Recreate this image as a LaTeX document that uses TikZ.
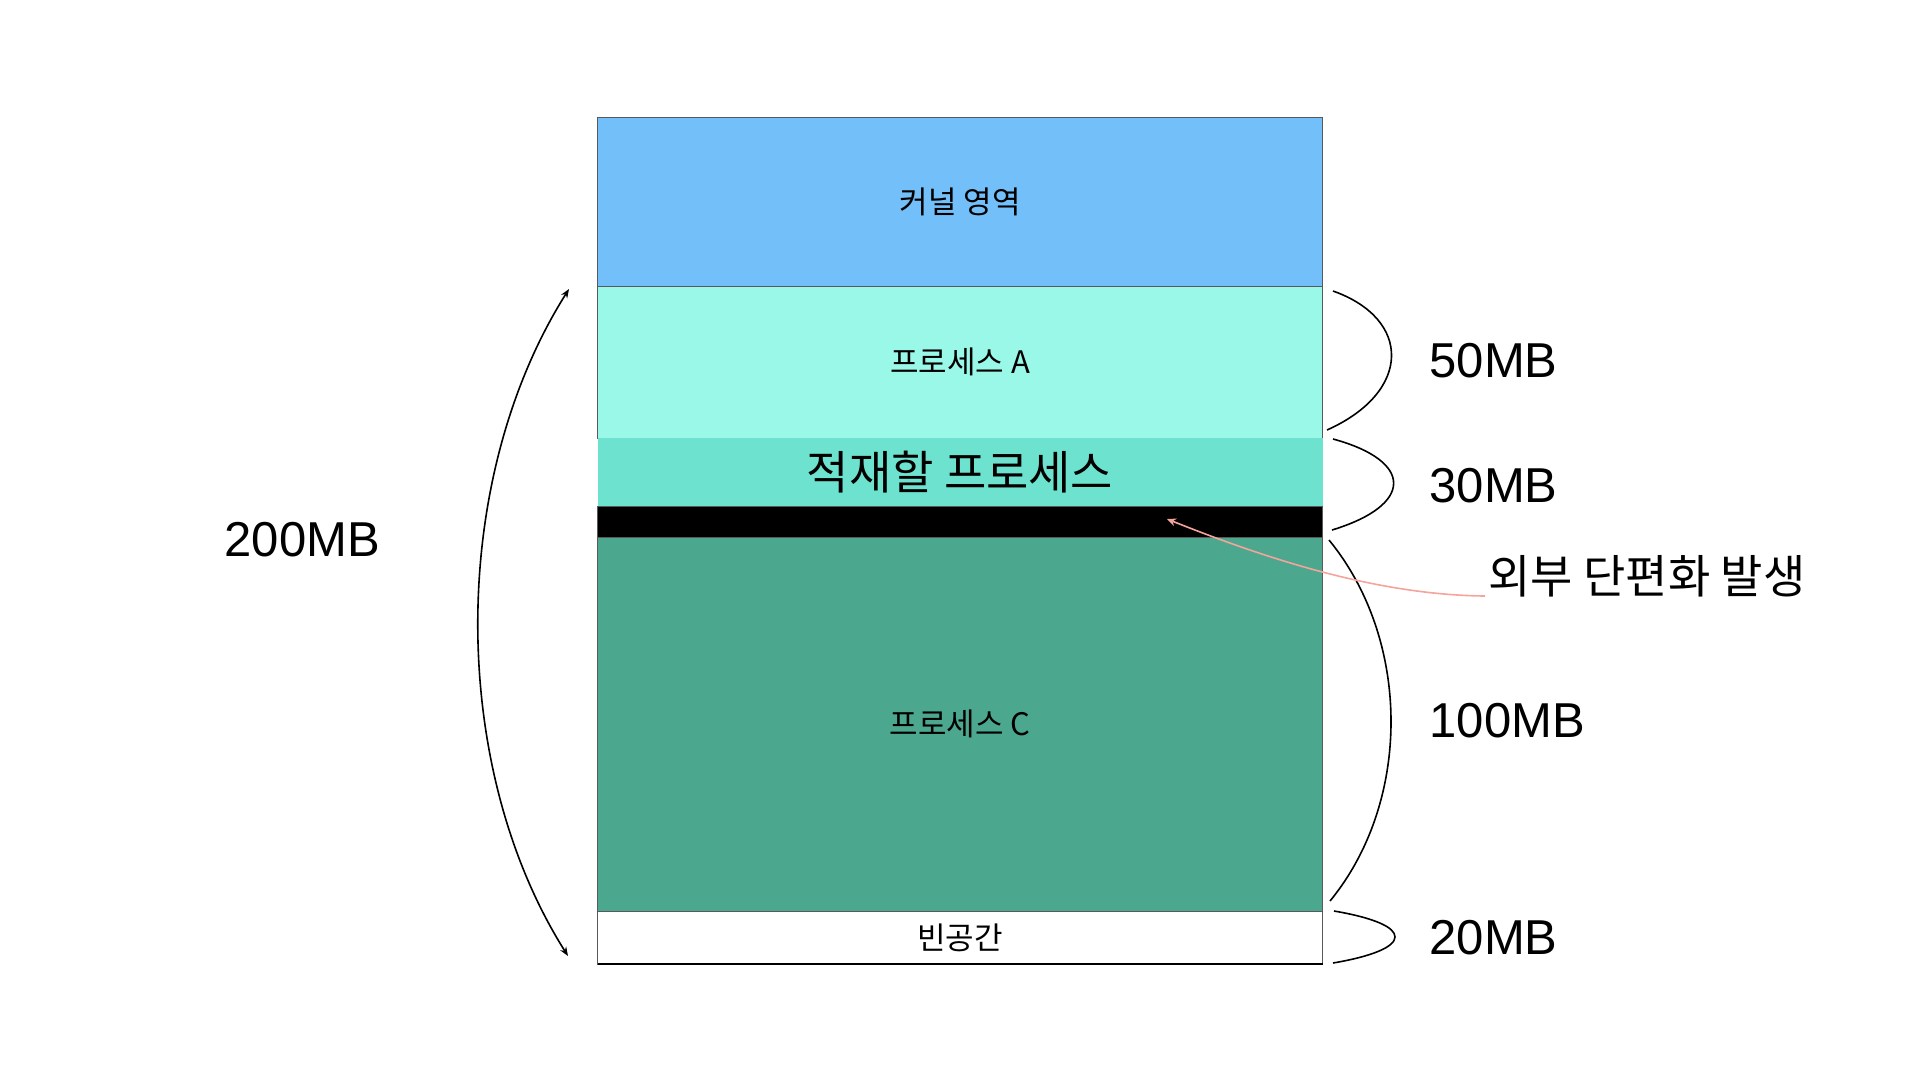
\documentclass[tikz,border=0pt]{standalone}
\usepackage{fontspec}
\setmainfont{Liberation Sans}
\newfontfamily\kor{Noto Sans CJK KR}
\usetikzlibrary{positioning,arrows.meta}

\definecolor{kernelblue}{HTML}{73BFF9}
\definecolor{procA}{HTML}{9AF8E9}
\definecolor{loadproc}{HTML}{6DE3CF}
\definecolor{procC}{HTML}{4BA88F}
\definecolor{fragpink}{HTML}{F4A49A}

\tikzset{
  region/.style={rectangle, minimum width=725pt, inner sep=0pt, outer sep=0pt,
    draw=black!65, line width=0.9pt, font=\kor\fontsize{31}{35}\selectfont},
  sizelabel/.style={anchor=west, font=\fontsize{49}{54}\selectfont},
  brace/.style={line width=1.6pt},
}

\begin{document}
\begin{tikzpicture}[x=1pt, y=-1pt]
  \useasboundingbox (0,0) rectangle (1920,1080);

  % Memory regions
  \node[region, fill=kernelblue, minimum height=169pt, anchor=north] (kernel) at (960,117) {커널 영역};
  \node[region, fill=procA, minimum height=152pt, below=0pt of kernel] (pa) {프로세스 A};
  \node[region, fill=loadproc, draw=none, minimum height=68pt, below=0pt of pa,
        font=\kor\fontsize{46}{50}\selectfont] (load) {적재할 프로세스};
  \node[region, fill=black, minimum height=31pt, below=0pt of load] (hole) {};
  \node[region, fill=procC, minimum height=374pt, below=0pt of hole] (pc) {프로세스 C};
  \node[region, fill=white, minimum height=53pt, below=0pt of pc] (empty) {빈공간};
  \draw[line width=1.2pt] (empty.south west) -- (empty.south east);

  % Size braces
  \coordinate (b50s) at (1333,291);  \coordinate (b50e) at (1327,430);
  \coordinate (b30s) at (1333,439);  \coordinate (b30e) at (1332,530);
  \coordinate (b100s) at (1329,540); \coordinate (b100e) at (1330,901);
  \coordinate (b20s) at (1334,911);  \coordinate (b20e) at (1333,963);

  \draw[brace] (b50s) .. controls +(79,28) and +(85,-38) .. (b50e);
  \draw[brace] (b30s) .. controls +(81,22) and +(82,-25) .. (b30e);
  \draw[brace] (b100s) .. controls +(82,100) and +(82,-100) .. (b100e);
  \draw[brace] (b20s) .. controls +(82,14) and +(82,-14) .. (b20e);

  \node[sizelabel] (l50) at (1426,361) {50MB};
  \node[sizelabel] (l30) at (1426,486) {30MB};
  \node[sizelabel] (l100) at (1426,721) {100MB};
  \node[sizelabel] (l20) at (1426,938) {20MB};

  % Total size
  \coordinate (ttop) at (569,289);
  \coordinate (tbot) at (568,956);
  \draw[line width=1.6pt, {Stealth[length=9pt,width=7pt]}-{Stealth[length=9pt,width=7pt]}]
    (ttop) .. controls +(-120,190) and +(-120,-190) .. (tbot);
  \node[sizelabel] (l200) at (221,540) {200MB};

  % External fragmentation
  \node[anchor=west, font=\kor\fontsize{46}{50}\selectfont] (frag) at (1485,576) {외부 단편화 발생};
  \coordinate (fragtip) at (1167,519);
  \draw[fragpink, line width=1.6pt, -{Stealth[length=9pt,width=8pt]}]
    (frag.west |- 0,596) .. controls +(-110,-1) and +(95,38) .. (fragtip);
\end{tikzpicture}
\end{document}
